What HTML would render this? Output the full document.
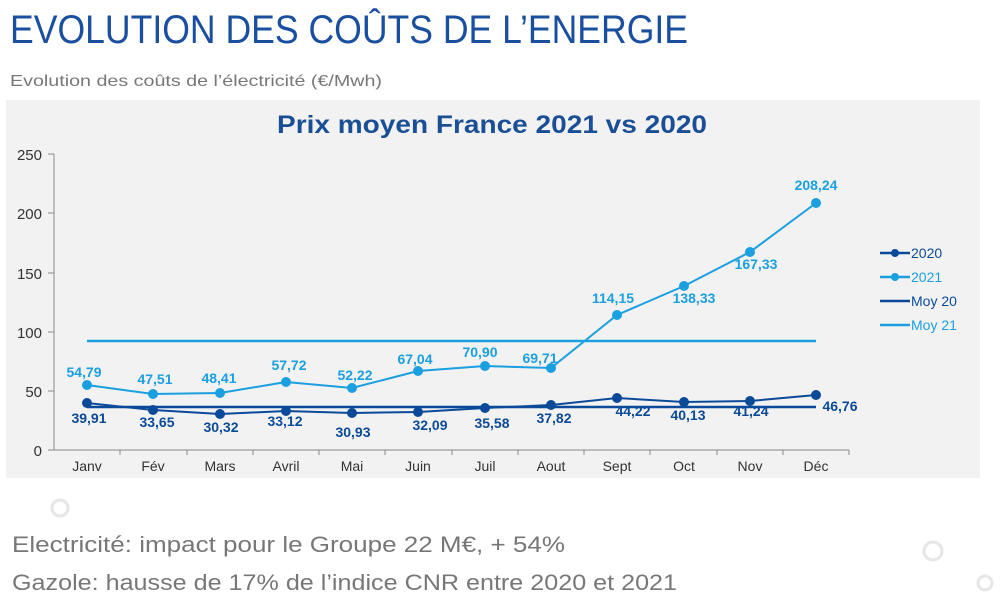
<!DOCTYPE html>
<html><head><meta charset="utf-8"><style>
html,body{margin:0;padding:0;background:#fff;width:1000px;height:613px;overflow:hidden}
svg{display:block;font-family:"Liberation Sans",sans-serif}
</style></head><body>
<svg width="1000" height="613" viewBox="0 0 1000 613" xmlns="http://www.w3.org/2000/svg">
<text x="10" y="43" font-size="40" fill="#1a4fa0" textLength="678" lengthAdjust="spacingAndGlyphs">EVOLUTION DES COÛTS DE L’ENERGIE</text>
<text x="10" y="86" font-size="16" fill="#777" textLength="372" lengthAdjust="spacingAndGlyphs">Evolution des coûts de l’électricité (€/Mwh)</text>
<rect x="6" y="100" width="974" height="378" fill="#f2f2f2"/>
<text x="492" y="133" font-size="25" font-weight="bold" fill="#1a4f96" text-anchor="middle" textLength="430" lengthAdjust="spacingAndGlyphs">Prix moyen France 2021 vs 2020</text>
<g stroke="#888" stroke-width="1" fill="none">
<line x1="54" y1="154" x2="54" y2="450"/>
<line x1="54" y1="450" x2="849" y2="450"/>
<line x1="48" y1="154" x2="54" y2="154"/><line x1="48" y1="213" x2="54" y2="213"/><line x1="48" y1="273" x2="54" y2="273"/><line x1="48" y1="332" x2="54" y2="332"/><line x1="48" y1="391" x2="54" y2="391"/><line x1="48" y1="450" x2="54" y2="450"/>
<line x1="120" y1="450" x2="120" y2="455"/><line x1="187" y1="450" x2="187" y2="455"/><line x1="253" y1="450" x2="253" y2="455"/><line x1="319" y1="450" x2="319" y2="455"/><line x1="385" y1="450" x2="385" y2="455"/><line x1="452" y1="450" x2="452" y2="455"/><line x1="518" y1="450" x2="518" y2="455"/><line x1="584" y1="450" x2="584" y2="455"/><line x1="650" y1="450" x2="650" y2="455"/><line x1="717" y1="450" x2="717" y2="455"/><line x1="783" y1="450" x2="783" y2="455"/><line x1="849" y1="450" x2="849" y2="455"/>
</g>
<g font-size="15" fill="#333" text-anchor="end">
<text x="42" y="160">250</text><text x="42" y="219">200</text><text x="42" y="279">150</text><text x="42" y="338">100</text><text x="42" y="397">50</text><text x="42" y="456">0</text>
</g>
<g font-size="14" fill="#333" text-anchor="middle">
<text x="87" y="471">Janv</text><text x="153" y="471">Fév</text><text x="220" y="471">Mars</text><text x="286" y="471">Avril</text><text x="352" y="471">Mai</text><text x="418" y="471">Juin</text><text x="485" y="471">Juil</text><text x="551" y="471">Aout</text><text x="617" y="471">Sept</text><text x="684" y="471">Oct</text><text x="750" y="471">Nov</text><text x="816" y="471">Déc</text>
</g>
<line x1="87" y1="341" x2="816" y2="341" stroke="#1a9fe0" stroke-width="2.5"/>
<line x1="87" y1="407" x2="816" y2="407" stroke="#0b4a98" stroke-width="2.5"/>
<polyline fill="none" stroke="#1a9fe0" stroke-width="2" points="87,385 153,394 220,393 286,382 352,388 418,371 485,366 551,368 617,315 684,286 750,252 816,203"/>
<polyline fill="none" stroke="#0b4a98" stroke-width="2" points="87,403 153,410 220,414 286,411 352,413 418,412 485,408 551,405 617,398 684,402 750,401 816,395"/>
<g fill="#1a9fe0">
<circle cx="87" cy="385" r="5"/><circle cx="153" cy="394" r="5"/><circle cx="220" cy="393" r="5"/><circle cx="286" cy="382" r="5"/><circle cx="352" cy="388" r="5"/><circle cx="418" cy="371" r="5"/><circle cx="485" cy="366" r="5"/><circle cx="551" cy="368" r="5"/><circle cx="617" cy="315" r="5"/><circle cx="684" cy="286" r="5"/><circle cx="750" cy="252" r="5"/><circle cx="816" cy="203" r="5"/>
</g>
<g fill="#0b4a98">
<circle cx="87" cy="403" r="5"/><circle cx="153" cy="410" r="5"/><circle cx="220" cy="414" r="5"/><circle cx="286" cy="411" r="5"/><circle cx="352" cy="413" r="5"/><circle cx="418" cy="412" r="5"/><circle cx="485" cy="408" r="5"/><circle cx="551" cy="405" r="5"/><circle cx="617" cy="398" r="5"/><circle cx="684" cy="402" r="5"/><circle cx="750" cy="401" r="5"/><circle cx="816" cy="395" r="5"/>
</g>
<g font-size="14" font-weight="bold" fill="#1a9fe0" text-anchor="middle">
<text x="84" y="377">54,79</text><text x="155" y="384">47,51</text><text x="219" y="383">48,41</text><text x="289" y="370">57,72</text><text x="355" y="380">52,22</text><text x="415" y="364">67,04</text><text x="480" y="357">70,90</text><text x="540" y="363">69,71</text><text x="613" y="303">114,15</text><text x="694" y="303">138,33</text><text x="756" y="269">167,33</text><text x="816" y="190">208,24</text>
</g>
<g font-size="14" font-weight="bold" fill="#0b4a98" text-anchor="middle">
<text x="89" y="423">39,91</text><text x="157" y="427">33,65</text><text x="221" y="432">30,32</text><text x="285" y="426">33,12</text><text x="353" y="437">30,93</text><text x="430" y="430">32,09</text><text x="492" y="428">35,58</text><text x="554" y="423">37,82</text><text x="633" y="416">44,22</text><text x="688" y="420">40,13</text><text x="751" y="416">41,24</text><text x="840" y="411">46,76</text>
</g>
<g stroke-width="2.5">
<line x1="880" y1="253" x2="910" y2="253" stroke="#0b4a98"/><circle cx="895" cy="253" r="4" fill="#0b4a98"/>
<line x1="880" y1="277" x2="910" y2="277" stroke="#1a9fe0"/><circle cx="895" cy="277" r="4" fill="#1a9fe0"/>
<line x1="880" y1="301" x2="910" y2="301" stroke="#0b4a98"/>
<line x1="880" y1="325" x2="910" y2="325" stroke="#1a9fe0"/>
</g>
<g font-size="14">
<text x="911" y="258" fill="#0b4a98">2020</text><text x="911" y="282" fill="#1a9fe0">2021</text><text x="911" y="306" fill="#0b4a98">Moy 20</text><text x="911" y="330" fill="#1a9fe0">Moy 21</text>
</g>
<text x="12" y="552" font-size="22" fill="#777" textLength="553" lengthAdjust="spacingAndGlyphs">Electricité: impact pour le Groupe 22 M€, + 54%</text>
<text x="12" y="590" font-size="22" fill="#777" textLength="665" lengthAdjust="spacingAndGlyphs">Gazole: hausse de 17% de l’indice CNR entre 2020 et 2021</text>
<g fill="none" stroke="#e6e6e6" stroke-width="3">
<circle cx="60" cy="508" r="8"/><circle cx="933" cy="551" r="9"/><circle cx="985" cy="583" r="7"/>
</g>
</svg>
</body></html>
